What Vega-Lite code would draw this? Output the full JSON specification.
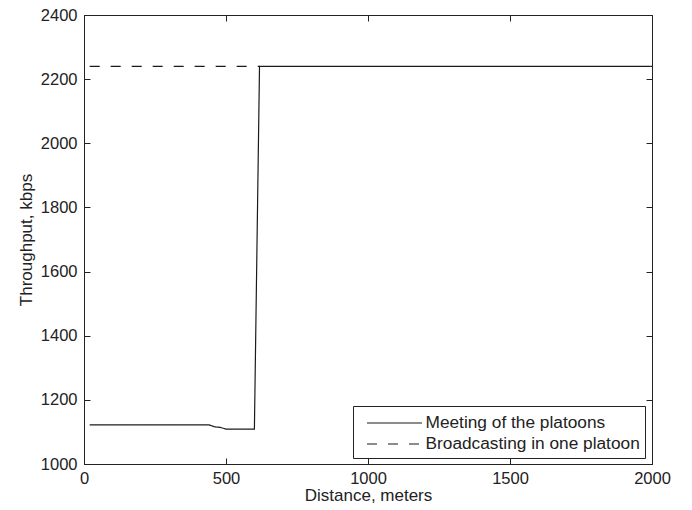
{
  "$schema": "https://vega.github.io/schema/vega-lite/v6.json",
  "width": 568,
  "height": 449,
  "autosize": {"type": "none"},
  "padding": {"left": 84, "top": 15, "right": 40, "bottom": 46},
  "background": "white",
  "config": {
    "view": {"stroke": "#222", "strokeWidth": 1},
    "font": "Liberation Sans",
    "axis": {
      "domainColor": "#222",
      "tickColor": "#222",
      "grid": false,
      "labelFont": "Liberation Sans",
      "titleFont": "Liberation Sans",
      "labelFontSize": 16.5,
      "titleFontSize": 17,
      "labelColor": "#222",
      "titleColor": "#222",
      "titleFontWeight": "normal"
    }
  },
  "data": {
    "values": [
      {"series": "Meeting of the platoons", "d": 20, "t": 1122},
      {"series": "Meeting of the platoons", "d": 440, "t": 1122},
      {"series": "Meeting of the platoons", "d": 460, "t": 1116},
      {"series": "Meeting of the platoons", "d": 480, "t": 1114},
      {"series": "Meeting of the platoons", "d": 500, "t": 1109},
      {"series": "Meeting of the platoons", "d": 600, "t": 1109},
      {"series": "Meeting of the platoons", "d": 618, "t": 2240},
      {"series": "Meeting of the platoons", "d": 2000, "t": 2240},
      {"series": "Broadcasting in one platoon", "d": 20, "t": 2240},
      {"series": "Broadcasting in one platoon", "d": 618, "t": 2240}
    ]
  },
  "resolve": {"scale": {"x": "independent", "y": "independent"}},
  "layer": [
    {
      "mark": {"type": "line", "color": "#1a1a1a", "strokeWidth": 1.2, "clip": true},
      "encoding": {
        "x": {
          "field": "d", "type": "quantitative",
          "scale": {"domain": [0, 2000], "nice": false},
          "axis": {"values": [0, 500, 1000, 1500, 2000], "format": "d", "tickSize": -6, "labelPadding": 12, "title": "Distance, meters", "titlePadding": 1, "labelFlush": false}
        },
        "y": {
          "field": "t", "type": "quantitative",
          "scale": {"domain": [1000, 2400], "nice": false, "zero": false},
          "axis": {"values": [1000, 1200, 1400, 1600, 1800, 2000, 2200, 2400], "format": "d", "tickSize": -6, "labelPadding": 13, "title": "Throughput, kbps", "titlePadding": 5, "labelFlush": false}
        },
        "strokeDash": {
          "field": "series", "type": "nominal",
          "scale": {"domain": ["Meeting of the platoons", "Broadcasting in one platoon"], "range": [[1, 0], [10, 11]]},
          "legend": {
            "title": null,
            "orient": "none",
            "legendX": 269,
            "legendY": 391,
            "symbolType": "M-2.5,0H2.5",
            "symbolSize": 484,
            "symbolOffset": 24.5,
            "symbolStrokeWidth": 1.2,
            "symbolStrokeColor": "#1a1a1a",
            "labelFontSize": 17.3,
            "labelFont": "Liberation Sans",
            "labelColor": "#222",
            "labelOffset": 19,
            "labelLimit": 400,
            "padding": 5,
            "fillColor": "white",
            "strokeColor": "#222",
            "rowPadding": 0
          }
        }
      }
    },
    {
      "mark": {"type": "line", "strokeOpacity": 0},
      "encoding": {
        "x": {
          "field": "d", "type": "quantitative",
          "scale": {"domain": [0, 2000], "nice": false},
          "axis": {"orient": "top", "values": [0, 500, 1000, 1500, 2000], "tickSize": -6, "labels": false, "title": null, "domain": false}
        },
        "y": {
          "field": "t", "type": "quantitative",
          "scale": {"domain": [1000, 2400], "nice": false, "zero": false},
          "axis": {"orient": "right", "values": [1000, 1200, 1400, 1600, 1800, 2000, 2200, 2400], "tickSize": -6, "labels": false, "title": null, "domain": false}
        }
      }
    }
  ]
}
